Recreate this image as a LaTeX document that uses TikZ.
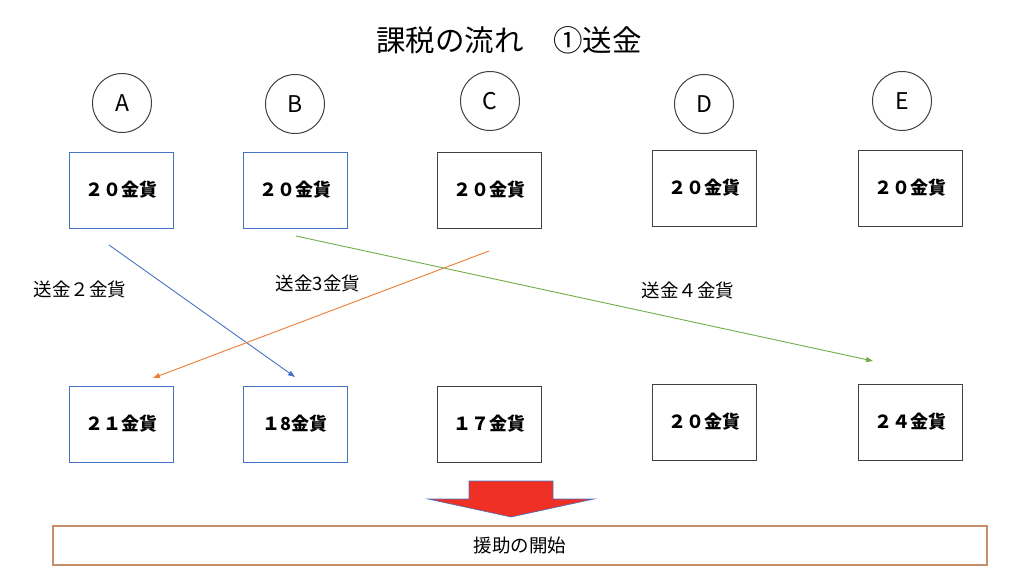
\documentclass[tikz,border=0pt]{standalone}
\usepackage{fontspec}
\setmainfont{Noto Sans CJK JP}
\usetikzlibrary{arrows.meta}
\definecolor{obox}{HTML}{4472C4}
\definecolor{kbox}{HTML}{404040}
\definecolor{oorange}{HTML}{ED7D31}
\definecolor{ogreen}{HTML}{70AD47}
\definecolor{ored}{HTML}{EE3124}
\definecolor{obrown}{HTML}{C8906A}
\tikzset{
  pt/.style={x=1pt,y=-1pt},
  person/.style={circle,draw=kbox,line width=1pt,minimum size=59pt,inner sep=0pt,font=\fontsize{23}{25}\selectfont},
  coinbox/.style={draw=#1,line width=1pt,minimum width=104pt,minimum height=76pt,inner sep=0pt,font=\fontsize{18}{20}\selectfont\bfseries},
  lbl/.style={font=\fontsize{18.5}{20}\selectfont,inner sep=0pt},
  flow/.style={draw=#1,line width=0.9pt,-{Triangle[length=7pt,width=5pt]}},
}
\begin{document}
\begin{tikzpicture}[pt]
\useasboundingbox (0,0) rectangle (1024,573);
\node[font=\fontsize{29.5}{32}\selectfont,inner sep=0pt] (title) at (509,40) {課税の流れ　①送金};
% persons
\node[person] (pA) at (122,103) {A};
\node[person] (pB) at (295,104) {B};
\node[person] (pC) at (490,101) {C};
\node[person] (pD) at (704,104) {D};
\node[person] (pE) at (902,101) {E};
% top boxes
\node[coinbox=obox] (tA) at (121,190) {２０金貨};
\node[coinbox=obox] (tB) at (295,190) {２０金貨};
\node[coinbox=kbox] (tC) at (489,190) {２０金貨};
\node[coinbox=kbox] (tD) at (704,188) {２０金貨};
\node[coinbox=kbox] (tE) at (910,188) {２０金貨};
% bottom boxes
\node[coinbox=obox] (bA) at (121,424) {２１金貨};
\node[coinbox=obox] (bB) at (295,424) {１8金貨};
\node[coinbox=kbox] (bC) at (489,424) {１７金貨};
\node[coinbox=kbox] (bD) at (704,422) {２０金貨};
\node[coinbox=kbox] (bE) at (910,422) {２４金貨};
% connectors
\coordinate (s1) at (109,245);
\coordinate (e1) at (295,377);
\coordinate (s2) at (489,251);
\coordinate (e2) at (153,378);
\coordinate (s3) at (296,236);
\coordinate (e3) at (873,361);
\draw[flow=obox] (s1) -- (e1);
\draw[flow=oorange] (s2) -- (e2);
\draw[flow=ogreen] (s3) -- (e3);
\node[lbl] (l1) at (80,289) {送金２金貨};
\node[lbl] (l2) at (318,283) {送金3金貨};
\node[lbl] (l3) at (688,290) {送金４金貨};
% block arrow
\draw[fill=ored,draw=obox,line width=0.6pt,line join=miter]
  (469,481) -- (553,481) -- (553,499) -- (594,499) -- (511,517)
  -- (428,499) -- (469,499) -- cycle;
% bottom bar
\node[draw=obrown,line width=1.3pt,minimum width=934pt,minimum height=39pt,inner sep=0pt,
  font=\fontsize{18.5}{20}\selectfont] (aid) at (520,545.5) {援助の開始};
\end{tikzpicture}
\end{document}
